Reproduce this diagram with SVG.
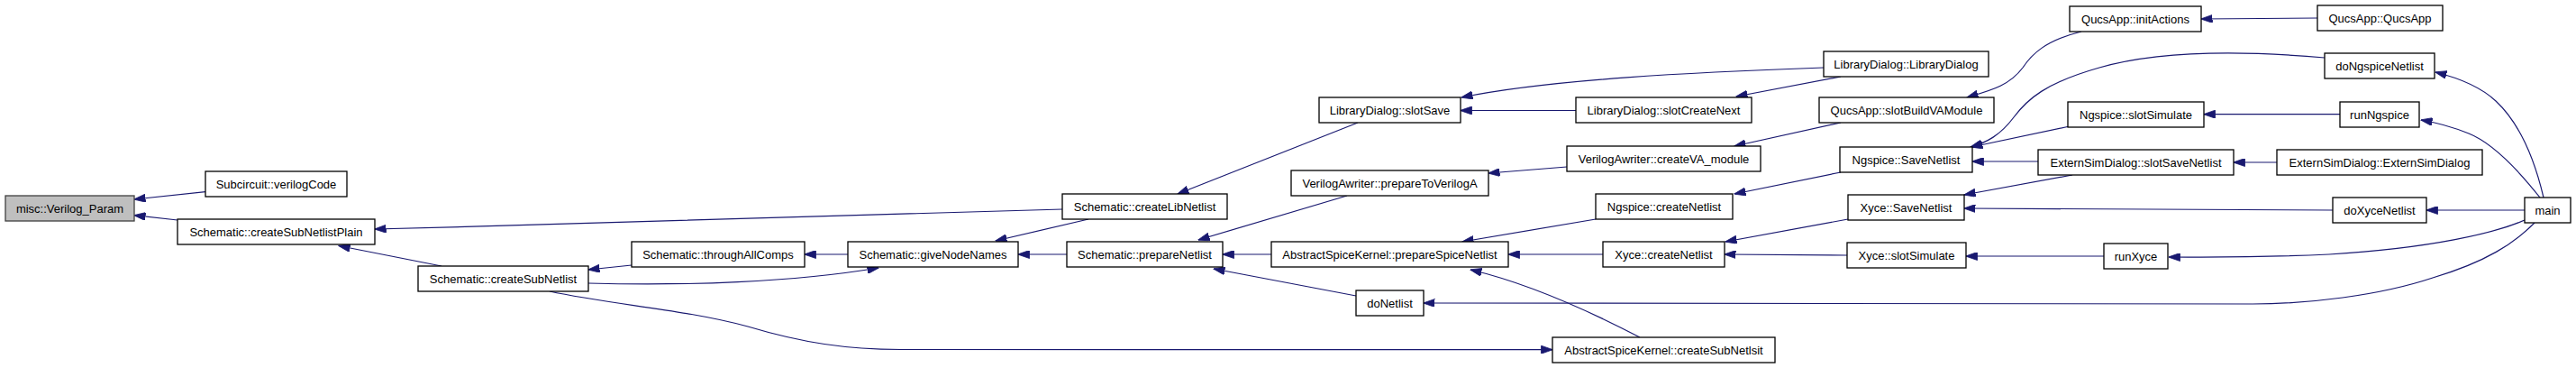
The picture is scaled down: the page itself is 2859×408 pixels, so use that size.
<svg xmlns="http://www.w3.org/2000/svg" width="2859" height="408" viewBox="0 0 2859 408">
<style>
.node rect{fill:#ffffff;stroke:#000000;stroke-width:1.3}
.node.sel rect{fill:#bfbfbf;stroke:#404040}
.node text{font-family:"Liberation Sans",Arial,sans-serif;font-size:13px;text-anchor:middle;fill:#000}
.edges path{fill:none;stroke:#191970;stroke-width:1.2;marker-end:url(#ah)}
</style>
<defs>
<marker id="ah" markerUnits="userSpaceOnUse" viewBox="0 0 13 9" markerWidth="13" markerHeight="9" refX="12.5" refY="4.5" orient="auto">
<path d="M0,0 L13,4.5 L0,9 Z" fill="#191970" stroke="#191970" stroke-width="0.8"/>
</marker>
</defs>
<rect x="0" y="0" width="2859" height="408" fill="#ffffff"/>
<g id="edges" class="edges">
<path d="M228,212.7 L149,221"/>
<path d="M197,244 L149,238.7"/>
<path d="M1179,232 C1000,236 700,247 416,254"/>
<path d="M490,295 L376,272.5"/>
<path d="M701,294 L653,299"/>
<path d="M941,282 L893,282"/>
<path d="M653,314 C760,317 880,313 975,297"/>
<path d="M610,323 C680,338 760,343 830,362 C890,380 940,387.5 1000,387.5 L1723,387.7"/>
<path d="M1208,243 L1105,267"/>
<path d="M1184,282 L1130,282"/>
<path d="M1507,136 L1307,215"/>
<path d="M1495,217 L1330,266"/>
<path d="M1411,282 L1357,282"/>
<path d="M1505,328 L1347,298"/>
<path d="M2024,75 C1880,80 1720,88 1622,108"/>
<path d="M1749,122.5 L1621,122.5"/>
<path d="M2043,85 L1927,107"/>
<path d="M2310,35 C2270,45 2255,60 2245,75 C2230,95 2210,100 2183,108"/>
<path d="M2043,136 L1925,162"/>
<path d="M1739,185 L1652,192"/>
<path d="M1771,243 L1623,268"/>
<path d="M1779,282 L1674,282"/>
<path d="M1820,374 C1770,348 1700,315 1632,299"/>
<path d="M2813,247 C2790,270 2760,290 2700,308 C2640,328 2560,337 2500,337 L1580,336"/>
<path d="M2043,191 L1925,215"/>
<path d="M2580,64 C2500,57 2400,55 2330,75 C2270,92 2250,110 2235,130 C2220,150 2205,158 2187,163"/>
<path d="M2297,140 L2188,163"/>
<path d="M2262,179 L2189,179"/>
<path d="M2300,194 L2180,216"/>
<path d="M2589,233 L2180,231"/>
<path d="M2051,243 L1915,268"/>
<path d="M2050,283 L1914,282"/>
<path d="M2335,284 L2182,284"/>
<path d="M2527,180 L2479,180"/>
<path d="M2572,20 L2443,21"/>
<path d="M2597,126.7 L2446,126.7"/>
<path d="M2823,219 C2815,185 2800,140 2770,112 C2755,98 2735,88 2703,80"/>
<path d="M2819,219 C2800,195 2770,160 2740,148 C2720,140 2705,136 2687,133"/>
<path d="M2802,233 L2693,233"/>
<path d="M2802,244 C2770,258 2700,275 2585,282 C2500,286 2450,285 2407,285"/>
</g>
<g id="n_misc" class="node sel"><rect x="6" y="217" width="143" height="28"/><text x="77.5" y="235.5">misc::Verilog_Param</text></g>
<g id="n_verilogCode" class="node"><rect x="228" y="190" width="157" height="28"/><text x="306.5" y="208.5">Subcircuit::verilogCode</text></g>
<g id="n_createSubNetlistPlain" class="node"><rect x="197" y="243" width="219" height="28"/><text x="306.5" y="261.5">Schematic::createSubNetlistPlain</text></g>
<g id="n_createSubNetlist" class="node"><rect x="464" y="295" width="189" height="28"/><text x="558.5" y="313.5">Schematic::createSubNetlist</text></g>
<g id="n_throughAllComps" class="node"><rect x="701" y="268" width="192" height="28"/><text x="797" y="286.5">Schematic::throughAllComps</text></g>
<g id="n_giveNodeNames" class="node"><rect x="941" y="268" width="189" height="28"/><text x="1035.5" y="286.5">Schematic::giveNodeNames</text></g>
<g id="n_createLibNetlist" class="node"><rect x="1179" y="215" width="183" height="28"/><text x="1270.5" y="233.5">Schematic::createLibNetlist</text></g>
<g id="n_prepareNetlist" class="node"><rect x="1184" y="268" width="173" height="28"/><text x="1270.5" y="286.5">Schematic::prepareNetlist</text></g>
<g id="n_slotSave" class="node"><rect x="1464" y="108" width="157" height="28"/><text x="1542.5" y="126.5">LibraryDialog::slotSave</text></g>
<g id="n_prepareToVerilogA" class="node"><rect x="1433" y="189" width="219" height="28"/><text x="1542.5" y="207.5">VerilogAwriter::prepareToVerilogA</text></g>
<g id="n_prepareSpiceNetlist" class="node"><rect x="1411" y="268" width="263" height="28"/><text x="1542.5" y="286.5">AbstractSpiceKernel::prepareSpiceNetlist</text></g>
<g id="n_doNetlist" class="node"><rect x="1505" y="322" width="75" height="28"/><text x="1542.5" y="340.5">doNetlist</text></g>
<g id="n_createSubNetlsit" class="node"><rect x="1723" y="374" width="247" height="28"/><text x="1846.5" y="392.5">AbstractSpiceKernel::createSubNetlsit</text></g>
<g id="n_slotCreateNext" class="node"><rect x="1749" y="108" width="195" height="28"/><text x="1846.5" y="126.5">LibraryDialog::slotCreateNext</text></g>
<g id="n_createVA_module" class="node"><rect x="1739" y="162" width="215" height="28"/><text x="1846.5" y="180.5">VerilogAwriter::createVA_module</text></g>
<g id="n_ngCreateNetlist" class="node"><rect x="1771" y="215" width="152" height="28"/><text x="1847" y="233.5">Ngspice::createNetlist</text></g>
<g id="n_xyceCreateNetlist" class="node"><rect x="1779" y="268" width="135" height="28"/><text x="1846.5" y="286.5">Xyce::createNetlist</text></g>
<g id="n_LibraryDialog" class="node"><rect x="2024" y="57" width="183" height="28"/><text x="2115.5" y="75.5">LibraryDialog::LibraryDialog</text></g>
<g id="n_slotBuildVAModule" class="node"><rect x="2019" y="108" width="194" height="28"/><text x="2116" y="126.5">QucsApp::slotBuildVAModule</text></g>
<g id="n_ngSaveNetlist" class="node"><rect x="2042" y="163" width="147" height="28"/><text x="2115.5" y="181.5">Ngspice::SaveNetlist</text></g>
<g id="n_xyceSaveNetlist" class="node"><rect x="2051" y="216" width="129" height="28"/><text x="2115.5" y="234.5">Xyce::SaveNetlist</text></g>
<g id="n_xyceSlotSimulate" class="node"><rect x="2050" y="269" width="132" height="28"/><text x="2116" y="287.5">Xyce::slotSimulate</text></g>
<g id="n_initActions" class="node"><rect x="2297" y="7" width="146" height="28"/><text x="2370" y="25.5">QucsApp::initActions</text></g>
<g id="n_ngSlotSimulate" class="node"><rect x="2295" y="113" width="151" height="28"/><text x="2370.5" y="131.5">Ngspice::slotSimulate</text></g>
<g id="n_extSlotSaveNetlist" class="node"><rect x="2262" y="166" width="217" height="28"/><text x="2370.5" y="184.5">ExternSimDialog::slotSaveNetlist</text></g>
<g id="n_runXyce" class="node"><rect x="2335" y="270" width="71" height="28"/><text x="2370.5" y="288.5">runXyce</text></g>
<g id="n_QucsApp" class="node"><rect x="2572" y="6" width="139" height="28"/><text x="2641.5" y="24.5">QucsApp::QucsApp</text></g>
<g id="n_doNgspiceNetlist" class="node"><rect x="2580" y="59" width="122" height="28"/><text x="2641" y="77.5">doNgspiceNetlist</text></g>
<g id="n_runNgspice" class="node"><rect x="2597" y="113" width="88" height="28"/><text x="2641" y="131.5">runNgspice</text></g>
<g id="n_ExternSimDialog" class="node"><rect x="2527" y="166" width="228" height="28"/><text x="2641" y="184.5">ExternSimDialog::ExternSimDialog</text></g>
<g id="n_doXyceNetlist" class="node"><rect x="2589" y="219" width="104" height="28"/><text x="2641" y="237.5">doXyceNetlist</text></g>
<g id="n_main" class="node"><rect x="2802" y="219" width="51" height="28"/><text x="2827.5" y="237.5">main</text></g>
</svg>
